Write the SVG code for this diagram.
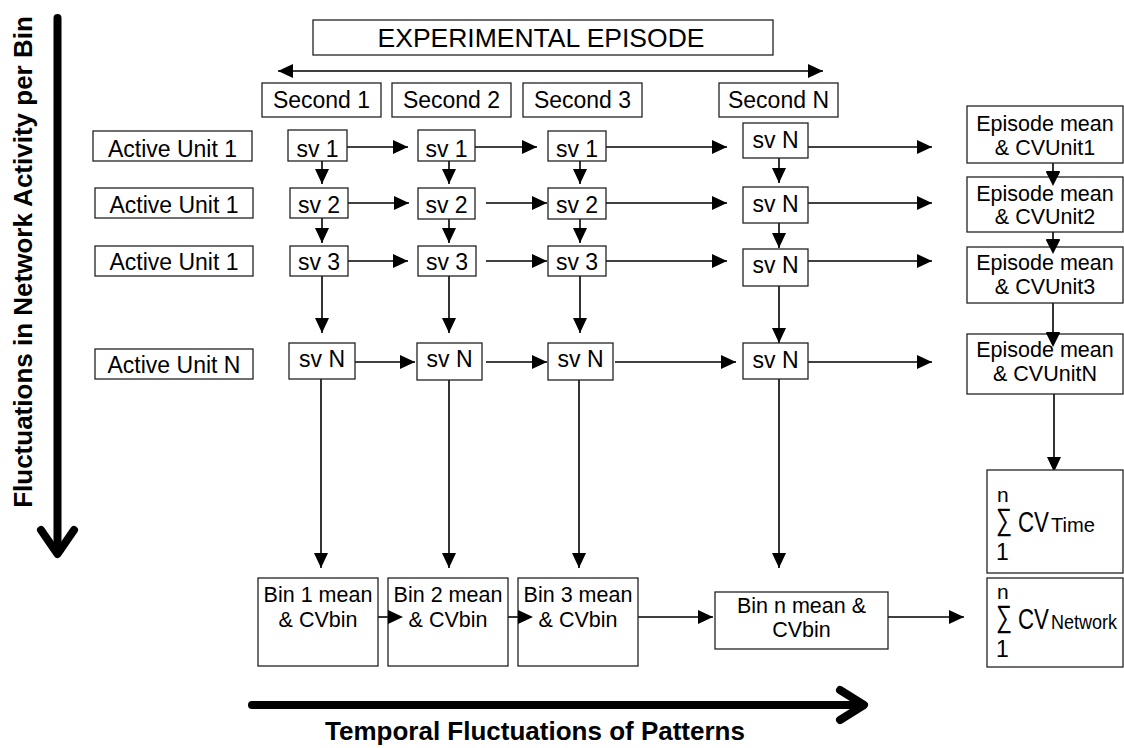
<svg xmlns="http://www.w3.org/2000/svg" width="1124" height="748" viewBox="0 0 1124 748">
<style>
.b{fill:#fff;stroke:#222;stroke-width:1.3}
.t{font-family:"Liberation Sans",Arial,sans-serif;font-size:23px;fill:#000;text-anchor:middle}
.m{font-family:"Liberation Sans",Arial,sans-serif;font-size:21.5px;fill:#000;text-anchor:middle}
.bold{font-family:"Liberation Sans",Arial,sans-serif;font-size:26px;font-weight:bold;fill:#000;text-anchor:middle}
.c{stroke:#000;stroke-width:1.6;fill:none}
.big{stroke:#000;stroke-width:8;fill:none;stroke-linecap:round;stroke-linejoin:round}
.s{font-family:"Liberation Sans",Arial,sans-serif;fill:#000}
</style>
<defs>
<marker id="ah" markerUnits="userSpaceOnUse" markerWidth="16" markerHeight="14" refX="15" refY="7" orient="auto">
<path d="M0,0 L15,7 L0,14 z" fill="#000"/>
</marker>
<marker id="ahs" markerUnits="userSpaceOnUse" markerWidth="16" markerHeight="14" refX="0" refY="7" orient="auto">
<path d="M15,0 L0,7 L15,14 z" fill="#000"/>
</marker>
</defs>

<!-- axes -->
<g id="axis-vertical">
<line class="big" x1="57.5" y1="18" x2="57.5" y2="552" stroke-linecap="butt"/>
<polyline class="big" points="41,530 57.5,554 74,530"/>
<text class="bold" transform="translate(32,262) rotate(-90)">Fluctuations in Network Activity per Bin</text>
</g>
<g id="axis-horizontal">
<line class="big" x1="252" y1="705" x2="862" y2="705" stroke-linecap="butt"/>
<polyline class="big" points="840,690 864,705 840,720"/>
<text class="bold" x="535" y="740">Temporal Fluctuations of Patterns</text>
</g>

<g id="connectors">
<line class="c" x1="278" y1="71" x2="823" y2="71" marker-start="url(#ahs)" marker-end="url(#ah)"/>
<!-- row 1 -->
<line class="c" x1="347" y1="147" x2="408" y2="147" marker-end="url(#ah)"/>
<line class="c" x1="475" y1="147" x2="537" y2="147" marker-end="url(#ah)"/>
<line class="c" x1="606" y1="147" x2="727" y2="147" marker-end="url(#ah)"/>
<line class="c" x1="808" y1="147" x2="932" y2="147" marker-end="url(#ah)"/>
<!-- row 2 -->
<line class="c" x1="348" y1="203" x2="409" y2="203" marker-end="url(#ah)"/>
<line class="c" x1="486" y1="203" x2="547" y2="203" marker-end="url(#ah)"/>
<line class="c" x1="606" y1="203" x2="727" y2="203" marker-end="url(#ah)"/>
<line class="c" x1="808" y1="203" x2="932" y2="203" marker-end="url(#ah)"/>
<!-- row 3 -->
<line class="c" x1="348" y1="261" x2="408" y2="261" marker-end="url(#ah)"/>
<line class="c" x1="486" y1="261" x2="547" y2="261" marker-end="url(#ah)"/>
<line class="c" x1="606" y1="261" x2="727" y2="261" marker-end="url(#ah)"/>
<line class="c" x1="808" y1="261" x2="932" y2="261" marker-end="url(#ah)"/>
<!-- row N -->
<line class="c" x1="355" y1="362" x2="415" y2="362" marker-end="url(#ah)"/>
<line class="c" x1="486" y1="362" x2="547" y2="362" marker-end="url(#ah)"/>
<line class="c" x1="615" y1="362" x2="736" y2="362" marker-end="url(#ah)"/>
<line class="c" x1="808" y1="362" x2="932" y2="362" marker-end="url(#ah)"/>
<!-- column 1 -->
<line class="c" x1="322" y1="161" x2="322" y2="184" marker-end="url(#ah)"/>
<line class="c" x1="322" y1="218" x2="322" y2="243" marker-end="url(#ah)"/>
<line class="c" x1="322" y1="276" x2="322" y2="333" marker-end="url(#ah)"/>
<line class="c" x1="321" y1="379" x2="321" y2="568" marker-end="url(#ah)"/>
<!-- column 2 -->
<line class="c" x1="449" y1="161" x2="449" y2="184" marker-end="url(#ah)"/>
<line class="c" x1="449" y1="219" x2="449" y2="243" marker-end="url(#ah)"/>
<line class="c" x1="449" y1="276" x2="449" y2="333" marker-end="url(#ah)"/>
<line class="c" x1="449" y1="380" x2="449" y2="568" marker-end="url(#ah)"/>
<!-- column 3 -->
<line class="c" x1="580" y1="161" x2="580" y2="184" marker-end="url(#ah)"/>
<line class="c" x1="580" y1="219" x2="580" y2="243" marker-end="url(#ah)"/>
<line class="c" x1="580" y1="276" x2="580" y2="333" marker-end="url(#ah)"/>
<line class="c" x1="579" y1="380" x2="579" y2="568" marker-end="url(#ah)"/>
<!-- column N -->
<line class="c" x1="779" y1="158" x2="779" y2="183" marker-end="url(#ah)"/>
<line class="c" x1="779" y1="223" x2="779" y2="248" marker-end="url(#ah)"/>
<line class="c" x1="779" y1="286" x2="779" y2="343" marker-end="url(#ah)"/>
<line class="c" x1="779" y1="379" x2="779" y2="568" marker-end="url(#ah)"/>
<!-- bins -->
<line class="c" x1="378" y1="617" x2="403" y2="617" marker-end="url(#ah)"/>
<line class="c" x1="508" y1="617" x2="533" y2="617" marker-end="url(#ah)"/>
<line class="c" x1="638" y1="617" x2="713" y2="617" marker-end="url(#ah)"/>
<line class="c" x1="888" y1="617" x2="964" y2="617" marker-end="url(#ah)"/>
<!-- episode column -->
<line class="c" x1="1053" y1="163" x2="1053" y2="186" marker-end="url(#ah)"/>
<line class="c" x1="1053" y1="232" x2="1053" y2="254" marker-end="url(#ah)"/>
<line class="c" x1="1053" y1="303" x2="1053" y2="347" marker-end="url(#ah)"/>
<line class="c" x1="1054" y1="394" x2="1054" y2="472" marker-end="url(#ah)"/>
</g>

<g id="title"><rect class="b" x="313" y="20" width="460" height="35"/><text class="t" x="541" y="47" style="font-size:26.5px">EXPERIMENTAL EPISODE</text></g>

<g id="second1"><rect class="b" x="262" y="83" width="119" height="34"/><text class="t" x="321.5" y="108">Second 1</text></g>
<g id="second2"><rect class="b" x="392" y="83" width="119" height="34"/><text class="t" x="451.5" y="108">Second 2</text></g>
<g id="second3"><rect class="b" x="523" y="83" width="119" height="34"/><text class="t" x="582.5" y="108">Second 3</text></g>
<g id="secondN"><rect class="b" x="719" y="83" width="119" height="34"/><text class="t" x="778.5" y="108">Second N</text></g>

<g id="unit1"><rect class="b" x="93" y="131" width="159" height="30"/><text class="t" x="172.5" y="157">Active Unit 1</text></g>
<g id="unit2"><rect class="b" x="95" y="188" width="158" height="30"/><text class="t" x="174" y="213">Active Unit 1</text></g>
<g id="unit3"><rect class="b" x="95" y="246" width="158" height="30"/><text class="t" x="174" y="270">Active Unit 1</text></g>
<g id="unitN"><rect class="b" x="95" y="349" width="158" height="30"/><text class="t" x="174" y="373">Active Unit N</text></g>

<g id="c1r1"><rect class="b" x="288" y="130" width="59" height="31"/><text class="t" x="317.5" y="157">sv 1</text></g>
<g id="c1r2"><rect class="b" x="290" y="188" width="58" height="30"/><text class="t" x="319" y="213">sv 2</text></g>
<g id="c1r3"><rect class="b" x="290" y="246" width="58" height="30"/><text class="t" x="319" y="270">sv 3</text></g>
<g id="c1rN"><rect class="b" x="289" y="343" width="66" height="36"/><text class="t" x="322" y="367">sv N</text></g>

<g id="c2r1"><rect class="b" x="418" y="130" width="57" height="31"/><text class="t" x="446.5" y="157">sv 1</text></g>
<g id="c2r2"><rect class="b" x="418" y="188" width="57" height="31"/><text class="t" x="446.5" y="213">sv 2</text></g>
<g id="c2r3"><rect class="b" x="418" y="246" width="58" height="30"/><text class="t" x="447" y="270">sv 3</text></g>
<g id="c2rN"><rect class="b" x="417" y="343" width="65" height="37"/><text class="t" x="449.5" y="367">sv N</text></g>

<g id="c3r1"><rect class="b" x="548" y="131" width="58" height="30"/><text class="t" x="577" y="157">sv 1</text></g>
<g id="c3r2"><rect class="b" x="548" y="188" width="58" height="31"/><text class="t" x="577" y="213">sv 2</text></g>
<g id="c3r3"><rect class="b" x="548" y="246" width="58" height="30"/><text class="t" x="577" y="270">sv 3</text></g>
<g id="c3rN"><rect class="b" x="548" y="343" width="65" height="37"/><text class="t" x="580.5" y="367">sv N</text></g>

<g id="cNr1"><rect class="b" x="743" y="123" width="65" height="35"/><text class="t" x="775.5" y="148">sv N</text></g>
<g id="cNr2"><rect class="b" x="743" y="187" width="65" height="36"/><text class="t" x="775.5" y="212">sv N</text></g>
<g id="cNr3"><rect class="b" x="743" y="249" width="65" height="37"/><text class="t" x="775.5" y="273">sv N</text></g>
<g id="cNrN"><rect class="b" x="743" y="343" width="65" height="36"/><text class="t" x="775.5" y="368">sv N</text></g>

<g id="ep1"><rect class="b" x="967" y="106" width="156" height="57"/><text class="m" x="1045" y="131">Episode mean</text><text class="m" x="1045" y="155">&amp; CVUnit1</text></g>
<g id="ep2"><rect class="b" x="967" y="177" width="156" height="55"/><text class="m" x="1045" y="201">Episode mean</text><text class="m" x="1045" y="224">&amp; CVUnit2</text></g>
<g id="ep3"><rect class="b" x="967" y="247" width="156" height="56"/><text class="m" x="1045" y="270">Episode mean</text><text class="m" x="1045" y="294">&amp; CVUnit3</text></g>
<g id="epN"><rect class="b" x="967" y="334" width="156" height="60"/><text class="m" x="1045" y="357">Episode mean</text><text class="m" x="1045" y="381">&amp; CVUnitN</text></g>

<!-- arrowheads overlapping into episode boxes drawn on top -->
<g id="ep-heads">
<path d="M1046,172 L1053,186 L1060,172 z" fill="#000"/>
<path d="M1046,240 L1053,254 L1060,240 z" fill="#000"/>
<path d="M1046,333 L1053,347 L1060,333 z" fill="#000"/>
</g>

<g id="sumTime"><rect class="b" x="987" y="470" width="136" height="103"/>
<text class="s" x="997" y="502" style="font-size:21px">n</text>
<text class="s" x="996" y="530" style="font-size:31px" textLength="16" lengthAdjust="spacingAndGlyphs">∑</text>
<text class="s" x="1018" y="532"><tspan style="font-size:30px" textLength="31" lengthAdjust="spacingAndGlyphs">CV</tspan><tspan style="font-size:21px" dx="2" textLength="44" lengthAdjust="spacingAndGlyphs">Time</tspan></text>
<text class="s" x="996" y="560" style="font-size:23px">1</text>
</g>
<g id="sumNetwork"><rect class="b" x="987" y="578" width="136" height="89"/>
<text class="s" x="997" y="599" style="font-size:21px">n</text>
<text class="s" x="996" y="627" style="font-size:31px" textLength="16" lengthAdjust="spacingAndGlyphs">∑</text>
<text class="s" x="1018" y="629"><tspan style="font-size:30px" textLength="31" lengthAdjust="spacingAndGlyphs">CV</tspan><tspan style="font-size:21px" dx="2" textLength="66" lengthAdjust="spacingAndGlyphs">Network</tspan></text>
<text class="s" x="996" y="657" style="font-size:23px">1</text>
</g>

<g id="bin1"><rect class="b" x="258" y="578" width="120" height="88"/><text class="m" x="318" y="602">Bin 1 mean</text><text class="m" x="318" y="627">&amp; CVbin</text></g>
<g id="bin2"><rect class="b" x="388" y="578" width="120" height="88"/><text class="m" x="448" y="602">Bin 2 mean</text><text class="m" x="448" y="627">&amp; CVbin</text></g>
<g id="bin3"><rect class="b" x="518" y="578" width="120" height="88"/><text class="m" x="578" y="602">Bin 3 mean</text><text class="m" x="578" y="627">&amp; CVbin</text></g>
<g id="binN"><rect class="b" x="715" y="592" width="173" height="57"/><text class="m" x="801.5" y="613">Bin n mean &amp;</text><text class="m" x="801.5" y="637">CVbin</text></g>

<g id="bin-heads">
<path d="M388,610 L403,617 L388,624 z" fill="#000"/>
<path d="M518,610 L533,617 L518,624 z" fill="#000"/>
</g>
</svg>
